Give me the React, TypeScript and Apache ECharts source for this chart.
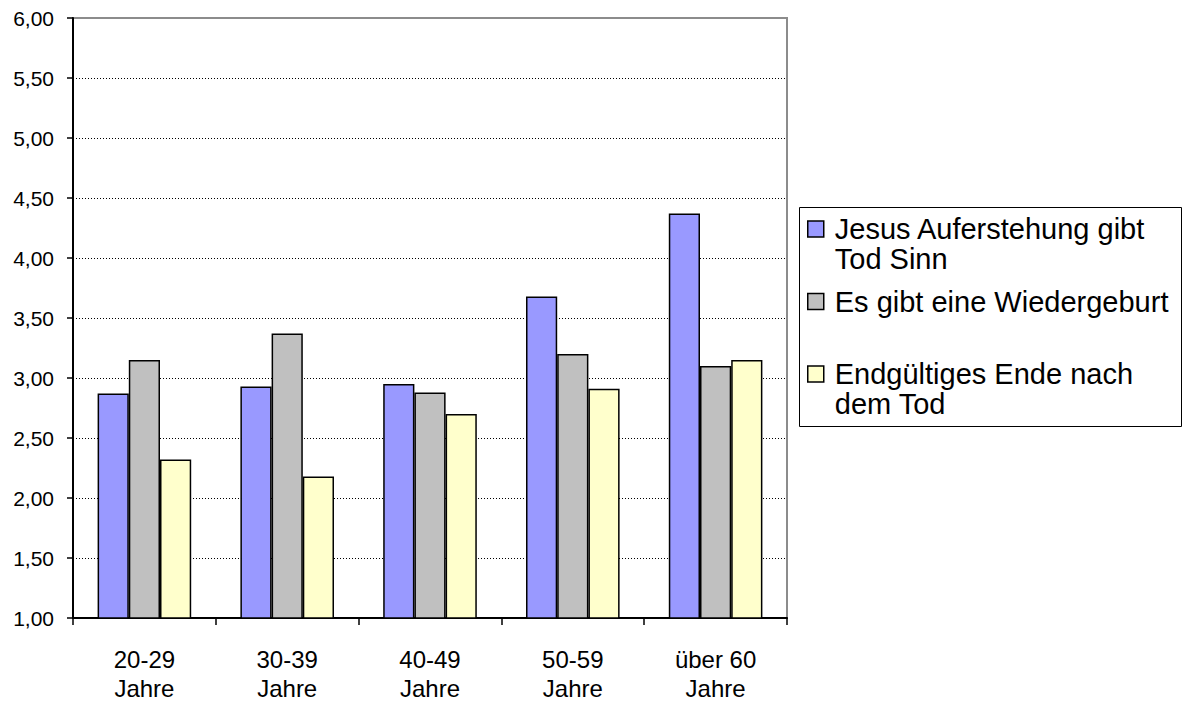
import React, { useEffect, useRef } from "react";
import * as echarts from "echarts";

const categories = ["20-29\nJahre", "30-39\nJahre", "40-49\nJahre", "50-59\nJahre", "über 60\nJahre"];
const seriesNames = [
  "Jesus Auferstehung gibt Tod Sinn",
  "Es gibt eine Wiedergeburt",
  "Endgültiges Ende nach dem Tod",
];
const legendLines: Record<string, string[]> = {
  "Jesus Auferstehung gibt Tod Sinn": ["Jesus Auferstehung gibt", "Tod Sinn"],
  "Es gibt eine Wiedergeburt": ["Es gibt eine Wiedergeburt", " "],
  "Endgültiges Ende nach dem Tod": ["Endgültiges Ende nach", "dem Tod"],
};
const auferstehung = [2.87, 2.93, 2.95, 3.68, 4.37];
const wiedergeburt = [3.15, 3.37, 2.88, 3.2, 3.1];
const endgueltig = [2.32, 2.18, 2.7, 2.91, 3.15];
const seriesValues = [auferstehung, wiedergeburt, endgueltig];
const seriesColors = ["#9999FF", "#C0C0C0", "#FFFFCC"];
const yMin = 1;
const yMax = 6;
const yStep = 0.5;

const FONT = "'Liberation Sans', Arial, sans-serif";

export default function App() {
  const ref = useRef<HTMLDivElement>(null);
  useEffect(() => {
    if (!ref.current) return;
    const chart = echarts.init(ref.current, undefined, { renderer: "svg" });
    chart.setOption({
      animation: false,
      backgroundColor: "#ffffff",
      textStyle: { fontFamily: FONT },
      grid: {
        left: 73,
        top: 18,
        width: 714,
        height: 600,
        show: true,
        borderColor: "#8c8c8c",
        borderWidth: 2,
        backgroundColor: "transparent",
        containLabel: false,
        outerBoundsMode: "none",
      },
      legend: {
        orient: "vertical",
        left: 807,
        top: 180.5,
        padding: 0,
        itemWidth: 16,
        itemHeight: 16,
        itemGap: -24.5,
        icon: "rect",
        selectedMode: false,
        data: seriesNames,
        formatter: (name: string) => "\n" + legendLines[name].join("\n"),
        itemStyle: { borderColor: "#000", borderWidth: 1.5 },
        textStyle: {
          fontFamily: FONT,
          fontSize: 29,
          lineHeight: 30,
          color: "#000",
          padding: [7, 0, 0, 6],
        },
      },
      graphic: [
        {
          type: "rect",
          z: 0,
          shape: { x: 799.5, y: 207.5, width: 382, height: 219 },
          style: { fill: "#fff", stroke: "#000", lineWidth: 1 },
        },
      ],
      xAxis: {
        type: "category",
        data: categories,
        axisLine: { show: true, lineStyle: { color: "#000", width: 2 } },
        axisTick: { show: true, inside: false, length: 7, alignWithLabel: false, interval: 0, lineStyle: { color: "#000", width: 1.5 } },
        axisLabel: {
          interval: 0,
          margin: 27,
          fontFamily: FONT,
          fontSize: 24,
          lineHeight: 29,
          color: "#000",
        },
        splitLine: { show: false },
      },
      yAxis: {
        type: "value",
        min: yMin,
        max: yMax,
        interval: yStep,
        axisLine: { show: true, lineStyle: { color: "#000", width: 2 } },
        axisTick: { show: true, inside: false, length: 6, lineStyle: { color: "#000", width: 1.5 } },
        axisLabel: {
          margin: 19,
          fontFamily: FONT,
          fontSize: 21,
          color: "#000",
          formatter: (v: number) => v.toFixed(2).replace(".", ","),
        },
        splitLine: {
          show: true,
          showMinLine: false,
          showMaxLine: false,
          lineStyle: { color: "#000", width: 1, type: [1, 2] },
        },
      },
      series: seriesNames.map((name, i) => ({
        name,
        type: "bar",
        data: seriesValues[i],
        barWidth: 31.2,
        barGap: "0%",
        clip: true,
        itemStyle: { color: seriesColors[i], borderColor: "#000", borderWidth: 1.5 },
      })),
    });
    return () => chart.dispose();
  }, []);
  return (
    <div
      ref={ref}
      style={{ position: "fixed", left: 0, top: 0, width: 1183, height: 702 }}
    />
  );
}
